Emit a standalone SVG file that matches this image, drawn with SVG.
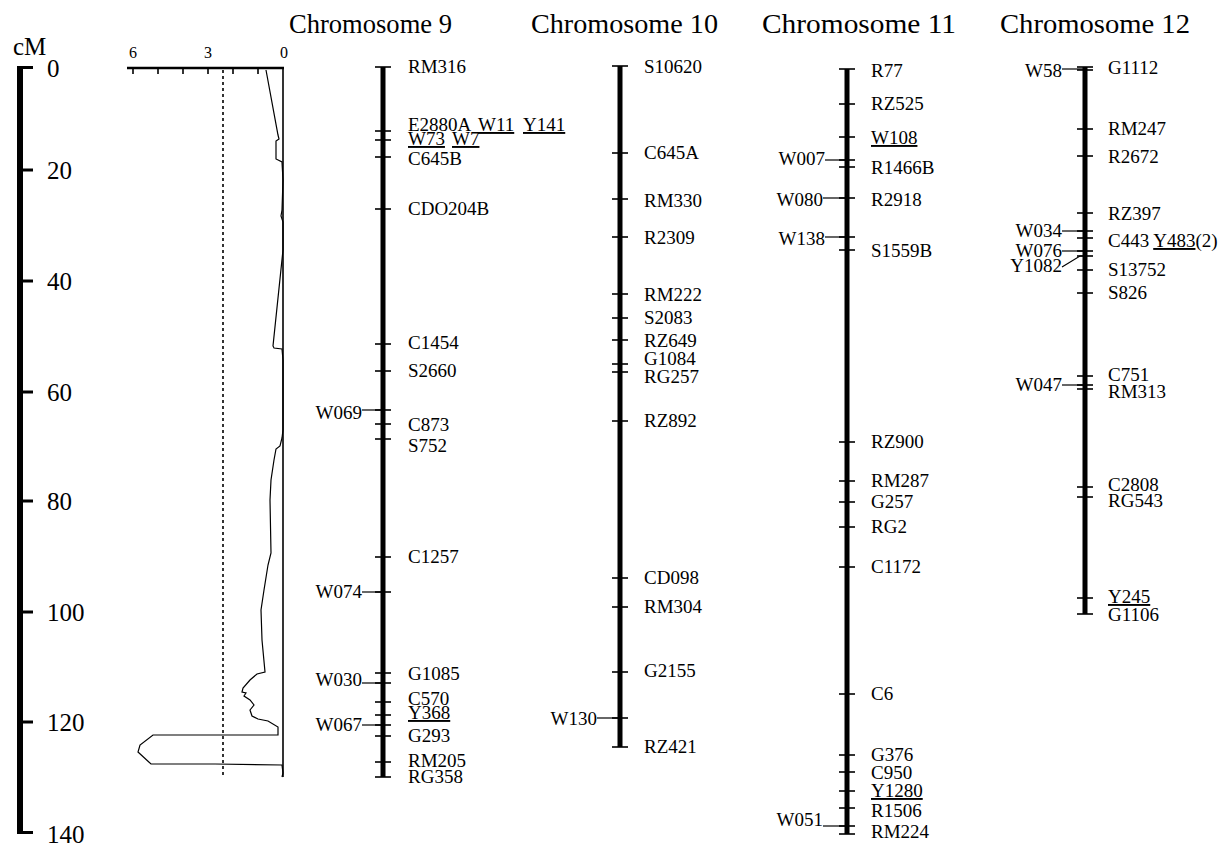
<svg xmlns="http://www.w3.org/2000/svg" width="1220" height="850" viewBox="0 0 1220 850">
<style>
text{font-family:"Liberation Serif","Times New Roman",serif;fill:#000}
.t{font-size:28px}
.m{font-size:19px}
.s{font-size:25px}
.a{font-size:16px}
.u{text-decoration:underline}
.bar{stroke:#000;stroke-width:5}
.tk{stroke:#000;stroke-width:1.6}
.ld{stroke:#000;stroke-width:1.2;fill:none}
</style>
<rect width="1220" height="850" fill="#fff"/>

<g id="scale">
<rect x="17" y="66" width="6" height="768" fill="#000"/>
<g stroke="#000" stroke-width="3">
<line x1="17" y1="67.5" x2="33" y2="67.5"/>
<line x1="23" y1="170" x2="33" y2="170"/>
<line x1="23" y1="281" x2="33" y2="281"/>
<line x1="23" y1="392" x2="33" y2="392"/>
<line x1="23" y1="501" x2="33" y2="501"/>
<line x1="23" y1="612" x2="33" y2="612"/>
<line x1="23" y1="722" x2="33" y2="722"/>
<line x1="17" y1="832.5" x2="33" y2="832.5"/>
</g>
<text class="s" x="13" y="55">cM</text>
<text class="s" x="47" y="77">0</text>
<text class="s" x="47" y="179">20</text>
<text class="s" x="47" y="290">40</text>
<text class="s" x="47" y="401">60</text>
<text class="s" x="47" y="510">80</text>
<text class="s" x="47" y="621">100</text>
<text class="s" x="47" y="731">120</text>
<text class="s" x="47" y="843">140</text>
</g>

<g id="lod">
<line x1="127" y1="68" x2="284" y2="68" stroke="#000" stroke-width="2.5"/>
<g class="tk">
<line x1="133" y1="68" x2="133" y2="74"/>
<line x1="158" y1="68" x2="158" y2="74"/>
<line x1="183" y1="68" x2="183" y2="74"/>
<line x1="208" y1="68" x2="208" y2="74"/>
<line x1="233" y1="68" x2="233" y2="74"/>
<line x1="258" y1="68" x2="258" y2="74"/>
</g>
<line x1="283" y1="67" x2="283" y2="777" stroke="#000" stroke-width="1.6"/>
<line x1="223" y1="70" x2="223" y2="777" stroke="#000" stroke-width="1.6" stroke-dasharray="3,3"/>
<text class="a" x="133" y="58" text-anchor="middle">6</text>
<text class="a" x="208" y="58" text-anchor="middle">3</text>
<text class="a" x="284" y="58" text-anchor="middle">0</text>
<polyline class="ld" points="266,70 278,135 279,139 276,141 276,159 282,162 283,180 282,210 281,216 283,222 283,250 273,346 274,348 282,349 283,360 283,430 282,438 280,446 276,449 274,460 271,480 270,500 271,553 268,565 264,590 261,610 262,640 265,672 257,674 250,680 243,688 242,692 246,693 244,696 250,700 254,705 250,710 252,716 258,719 268,721 278,727 278,735 215,735 153,735 140,745 138,752 151,764 215,764 282,765 283,773 282,777"/>
</g>

<g id="chr9">
<text class="t" x="289" y="33" textLength="163" lengthAdjust="spacingAndGlyphs">Chromosome 9</text>
<line class="bar" x1="383" y1="67" x2="383" y2="777"/>
<g class="tk">
<line x1="375" y1="67" x2="391" y2="67"/>
<line x1="375" y1="131" x2="391" y2="131"/>
<line x1="375" y1="140" x2="391" y2="140"/>
<line x1="375" y1="157" x2="391" y2="157"/>
<line x1="375" y1="209" x2="391" y2="209"/>
<line x1="375" y1="344" x2="391" y2="344"/>
<line x1="375" y1="371" x2="391" y2="371"/>
<line x1="375" y1="410" x2="391" y2="410"/>
<line x1="375" y1="424" x2="391" y2="424"/>
<line x1="375" y1="439" x2="391" y2="439"/>
<line x1="375" y1="557" x2="391" y2="557"/>
<line x1="375" y1="592" x2="391" y2="592"/>
<line x1="375" y1="673" x2="391" y2="673"/>
<line x1="375" y1="683" x2="391" y2="683"/>
<line x1="375" y1="702" x2="391" y2="702"/>
<line x1="375" y1="715" x2="391" y2="715"/>
<line x1="375" y1="725" x2="391" y2="725"/>
<line x1="375" y1="736" x2="391" y2="736"/>
<line x1="375" y1="762" x2="391" y2="762"/>
<line x1="375" y1="777" x2="391" y2="777"/>
</g>
<g class="m">
<text x="408" y="73">RM316</text>
<text x="408" y="131">E2880A <tspan class="u" x="478">W11</tspan> <tspan class="u" x="523">Y141</tspan></text>
<text x="408" y="145"><tspan class="u">W73</tspan> <tspan class="u" x="452">W7</tspan></text>
<text x="408" y="165">C645B</text>
<text x="408" y="215">CDO204B</text>
<text x="408" y="349">C1454</text>
<text x="408" y="377">S2660</text>
<text x="408" y="431">C873</text>
<text x="408" y="452">S752</text>
<text x="408" y="563">C1257</text>
<text x="408" y="680">G1085</text>
<text x="408" y="705">C570</text>
<text x="408" y="719" class="u">Y368</text>
<text x="408" y="742">G293</text>
<text x="408" y="767">RM205</text>
<text x="408" y="783">RG358</text>
<text x="362" y="419" text-anchor="end">W069</text>
<text x="362" y="598" text-anchor="end">W074</text>
<text x="362" y="686" text-anchor="end">W030</text>
<text x="362" y="731" text-anchor="end">W067</text>
</g>
</g>

<g id="chr10">
<text class="t" x="531" y="33" textLength="187" lengthAdjust="spacingAndGlyphs">Chromosome 10</text>
<line class="bar" x1="620" y1="66" x2="620" y2="747"/>
<g class="tk">
<line x1="612" y1="66" x2="628" y2="66"/>
<line x1="612" y1="153" x2="628" y2="153"/>
<line x1="612" y1="199" x2="628" y2="199"/>
<line x1="612" y1="237" x2="628" y2="237"/>
<line x1="612" y1="294" x2="628" y2="294"/>
<line x1="612" y1="318" x2="628" y2="318"/>
<line x1="612" y1="340" x2="628" y2="340"/>
<line x1="612" y1="364" x2="628" y2="364"/>
<line x1="612" y1="372" x2="628" y2="372"/>
<line x1="612" y1="421" x2="628" y2="421"/>
<line x1="612" y1="578" x2="628" y2="578"/>
<line x1="612" y1="607" x2="628" y2="607"/>
<line x1="612" y1="672" x2="628" y2="672"/>
<line x1="612" y1="718" x2="628" y2="718"/>
<line x1="612" y1="747" x2="628" y2="747"/>
</g>
<g class="m">
<text x="644" y="73">S10620</text>
<text x="644" y="159">C645A</text>
<text x="644" y="207">RM330</text>
<text x="644" y="244">R2309</text>
<text x="644" y="301">RM222</text>
<text x="644" y="324">S2083</text>
<text x="644" y="347">RZ649</text>
<text x="644" y="365">G1084</text>
<text x="644" y="383">RG257</text>
<text x="644" y="427">RZ892</text>
<text x="644" y="584">CD098</text>
<text x="644" y="613">RM304</text>
<text x="644" y="677">G2155</text>
<text x="644" y="753">RZ421</text>
<text x="597" y="725" text-anchor="end">W130</text>
</g>
</g>

<g id="chr11">
<text class="t" x="762" y="33" textLength="194" lengthAdjust="spacingAndGlyphs">Chromosome 11</text>
<line class="bar" x1="847" y1="69" x2="847" y2="834"/>
<g class="tk">
<line x1="839" y1="69" x2="855" y2="69"/>
<line x1="839" y1="104" x2="855" y2="104"/>
<line x1="839" y1="137" x2="855" y2="137"/>
<line x1="839" y1="160" x2="855" y2="160"/>
<line x1="839" y1="167" x2="855" y2="167"/>
<line x1="839" y1="198" x2="855" y2="198"/>
<line x1="839" y1="237" x2="855" y2="237"/>
<line x1="839" y1="250" x2="855" y2="250"/>
<line x1="839" y1="442" x2="855" y2="442"/>
<line x1="839" y1="481" x2="855" y2="481"/>
<line x1="839" y1="502" x2="855" y2="502"/>
<line x1="839" y1="527" x2="855" y2="527"/>
<line x1="839" y1="567" x2="855" y2="567"/>
<line x1="839" y1="694" x2="855" y2="694"/>
<line x1="839" y1="755" x2="855" y2="755"/>
<line x1="839" y1="772" x2="855" y2="772"/>
<line x1="839" y1="791" x2="855" y2="791"/>
<line x1="839" y1="808" x2="855" y2="808"/>
<line x1="839" y1="826" x2="855" y2="826"/>
<line x1="839" y1="834" x2="855" y2="834"/>
</g>
<g class="m">
<text x="871" y="77">R77</text>
<text x="871" y="110">RZ525</text>
<text x="871" y="144" class="u">W108</text>
<text x="871" y="174">R1466B</text>
<text x="871" y="206">R2918</text>
<text x="871" y="257">S1559B</text>
<text x="871" y="448">RZ900</text>
<text x="871" y="487">RM287</text>
<text x="871" y="508">G257</text>
<text x="871" y="533">RG2</text>
<text x="871" y="573">C1172</text>
<text x="871" y="700">C6</text>
<text x="871" y="761">G376</text>
<text x="871" y="779">C950</text>
<text x="871" y="797" class="u">Y1280</text>
<text x="871" y="817">R1506</text>
<text x="871" y="838">RM224</text>
<text x="825" y="165" text-anchor="end">W007</text>
<text x="823" y="206" text-anchor="end">W080</text>
<text x="825" y="245" text-anchor="end">W138</text>
<text x="823" y="826" text-anchor="end">W051</text>
</g>
</g>

<g id="chr12">
<text class="t" x="1000" y="33" textLength="190" lengthAdjust="spacingAndGlyphs">Chromosome 12</text>
<line class="bar" x1="1085" y1="67" x2="1085" y2="614"/>
<g class="tk">
<line x1="1077" y1="67" x2="1093" y2="67"/>
<line x1="1077" y1="70" x2="1093" y2="70"/>
<line x1="1077" y1="129" x2="1093" y2="129"/>
<line x1="1077" y1="156" x2="1093" y2="156"/>
<line x1="1077" y1="213" x2="1093" y2="213"/>
<line x1="1077" y1="231" x2="1093" y2="231"/>
<line x1="1077" y1="238" x2="1093" y2="238"/>
<line x1="1077" y1="251" x2="1093" y2="251"/>
<line x1="1077" y1="256" x2="1093" y2="256"/>
<line x1="1077" y1="270" x2="1093" y2="270"/>
<line x1="1077" y1="293" x2="1093" y2="293"/>
<line x1="1077" y1="376" x2="1093" y2="376"/>
<line x1="1077" y1="385" x2="1093" y2="385"/>
<line x1="1077" y1="389" x2="1093" y2="389"/>
<line x1="1077" y1="487" x2="1093" y2="487"/>
<line x1="1077" y1="497" x2="1093" y2="497"/>
<line x1="1077" y1="598" x2="1093" y2="598"/>
<line x1="1077" y1="614" x2="1093" y2="614"/>
</g>
<g class="m">
<text x="1108" y="74">G1112</text>
<text x="1108" y="135">RM247</text>
<text x="1108" y="163">R2672</text>
<text x="1108" y="220">RZ397</text>
<text x="1108" y="247">C443 <tspan class="u">Y483</tspan>(2)</text>
<text x="1108" y="276">S13752</text>
<text x="1108" y="299">S826</text>
<text x="1108" y="381">C751</text>
<text x="1108" y="398">RM313</text>
<text x="1108" y="491">C2808</text>
<text x="1108" y="507">RG543</text>
<text x="1108" y="603" class="u">Y245</text>
<text x="1108" y="621">G1106</text>
<text x="1062" y="77" text-anchor="end">W58</text>
<text x="1062" y="237" text-anchor="end">W034</text>
<text x="1062" y="257" text-anchor="end">W076</text>
<text x="1062" y="272" text-anchor="end">Y1082</text>
<text x="1062" y="391" text-anchor="end">W047</text>
</g>
</g>

<g id="connectors" stroke="#000" stroke-width="1.2" fill="none">
<line x1="362" y1="410" x2="383" y2="410"/>
<line x1="362" y1="592" x2="383" y2="592"/>
<line x1="362" y1="683" x2="383" y2="683"/>
<line x1="362" y1="725" x2="383" y2="725"/>
<line x1="597" y1="718" x2="620" y2="718"/>
<line x1="825" y1="160" x2="847" y2="160"/>
<line x1="823" y1="198" x2="847" y2="198"/>
<line x1="825" y1="237" x2="847" y2="237"/>
<line x1="823" y1="826" x2="847" y2="826"/>
<line x1="1062" y1="69" x2="1085" y2="69"/>
<line x1="1062" y1="231" x2="1085" y2="231"/>
<line x1="1062" y1="251" x2="1085" y2="251"/>
<polyline points="1062,267 1080,256 1085,256"/>
<line x1="1062" y1="385" x2="1085" y2="385"/>
</g>
</svg>
